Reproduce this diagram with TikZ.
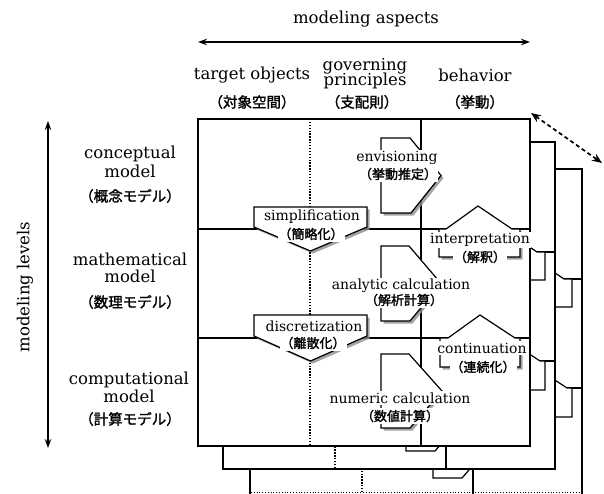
\documentclass[tikz,border=0pt]{standalone}
\usepackage{fontspec}
\setmainfont{DejaVu Serif}
\newfontfamily\jp[RawFeature={embolden=1.6}]{Noto Sans CJK JP}
\usetikzlibrary{arrows.meta,shadows}

\newcommand{\layerbody}{%
  \draw[ln, fill=white] (198,119) rectangle (530,446);
  \draw[ln] (198,229) -- (530,229);
  \draw[ln] (198,338) -- (530,338);
  \draw[dotln] (310,119) -- (310,446);
  \draw[ln] (421,119) -- (421,446);
  % down-pointing shapes
  \draw[shp] (254,207) -- (367,207) -- (367,227) -- (310.5,251) -- (254,227) -- cycle;
  \draw[shp] (254,315) -- (367,315) -- (367,336) -- (310.5,361) -- (254,336) -- cycle;
  % right-pointing shapes
  \draw[shp] (381,138) -- (410,138) -- (441,175.5) -- (411,213) -- (381,213) -- cycle;
  \draw[shp] (381,246) -- (409,246) -- (441,283.5) -- (410,321) -- (381,321) -- cycle;
  \draw[shp] (381,354) -- (409,354) -- (442,391) -- (410,428) -- (381,428) -- cycle;
  % up-pointing shapes
  \draw[shp] (439,257) -- (439,229) -- (446,229) -- (478,206) -- (512,229) -- (520,229) -- (520,257) -- cycle;
  \draw[shp] (440,367) -- (440,338) -- (448,338) -- (480,315) -- (515,338) -- (520,338) -- (520,367) -- cycle;
}

\begin{document}
\begin{tikzpicture}[x=1pt,y=-1pt,
  ln/.style={line width=1.5pt},
  dotln/.style={line width=1.3pt, dash pattern=on 1.3pt off 1.6pt},
  shp/.style={line width=1.2pt, fill=white},
  shpshadow/.style={line width=1.2pt, fill=white,
     drop shadow={shadow xshift=2.5pt, shadow yshift=-2.5pt, fill=black!45, opacity=.8}},
  hd/.style={font=\fontsize{16.5}{18}\selectfont, inner sep=0pt},
  hj/.style={font=\fontsize{14.5}{16}\selectfont\jp, inner sep=0pt},
  lb/.style={font=\fontsize{14}{15}\selectfont, inner xsep=1pt, inner ysep=1.5pt, fill=white},
  lj/.style={font=\fontsize{13}{14}\selectfont\jp, inner xsep=1pt, inner ysep=1.5pt, fill=white},
  arr/.style={line width=1.3pt, {Stealth[length=9pt,width=6.5pt]}-{Stealth[length=9pt,width=6.5pt]}},
  darr/.style={line width=1.7pt, dash pattern=on 4pt off 3pt,
     {Stealth[length=10pt,width=8pt]}-{Stealth[length=10pt,width=8pt]}}
]
\useasboundingbox (0,0) rectangle (604,494);

% back layers
\begin{scope}[shift={(52,50)}]
  \layerbody
\end{scope}
\draw[line width=0.8pt, dotted] (251,492.5) -- (583,492.5);
\begin{scope}[shift={(25,23)}]
  \layerbody
\end{scope}
% front layer
\begin{scope}[shp/.style={shpshadow}]
  \layerbody
\end{scope}

% header
\node[hd] (asp) at (366,19) {modeling aspects};
\coordinate (hl) at (198,42);
\coordinate (hr) at (530,42);
\draw[arr] (hl) -- (hr);

\node[hd] (tobj) at (252,75) {target objects};
\node[hd] (gov1) at (365,66) {governing};
\node[hd] (gov2) at (365,81) {principles};
\node[hd] (beh) at (475,75) {behavior};
\node[hj] (tobjj) at (252,102) {（対象空間）};
\node[hj] (govj) at (362,102) {（支配則）};
\node[hj] (behj) at (475,102) {（挙動）};

% left labels
\node[hd, rotate=90] (lev) at (25,287) {modeling levels};
\coordinate (vt) at (48,121);
\coordinate (vb) at (48,448);
\draw[arr] (vt) -- (vb);

\node[hd] (c1) at (130,154) {conceptual};
\node[hd] (c2) at (130,171) {model};
\node[hj] (c3) at (130,196) {（概念モデル）};
\node[hd] (m1) at (130,259) {mathematical};
\node[hd] (m2) at (130,276) {model};
\node[hj] (m3) at (130,302) {（数理モデル）};
\node[hd] (p1) at (129,380) {computational};
\node[hd] (p2) at (129,396) {model};
\node[hj] (p3) at (130,419) {（計算モデル）};

% inner labels
\node[lb] (simp) at (312,217) {simplification};
\node[lj] (simpj) at (311,234) {（簡略化）};
\node[lb] (disc) at (314,326) {discretization};
\node[lj] (discj) at (313,343) {（離散化）};
\node[lb] (env) at (397,158) {envisioning};
\node[lj] (envj) at (398,174) {（挙動推定）};
\node[lb] (ana) at (401,286) {analytic calculation};
\node[lj] (anaj) at (404,300) {（解析計算）};
\node[lb] (num) at (400,398) {numeric calculation};
\node[lj] (numj) at (400,416) {（数値計算）};
\node[lb] (intp) at (480,240) {interpretation};
\node[lj] (intpj) at (480,257) {（解釈）};
\node[lb] (cont) at (482,348) {continuation};
\node[lj] (contj) at (483,367) {（連続化）};

% dashed diagonal arrow
\coordinate (d1) at (531,113);
\coordinate (d2) at (602,163);
\draw[darr] (d1) -- (d2);
\end{tikzpicture}
\end{document}
